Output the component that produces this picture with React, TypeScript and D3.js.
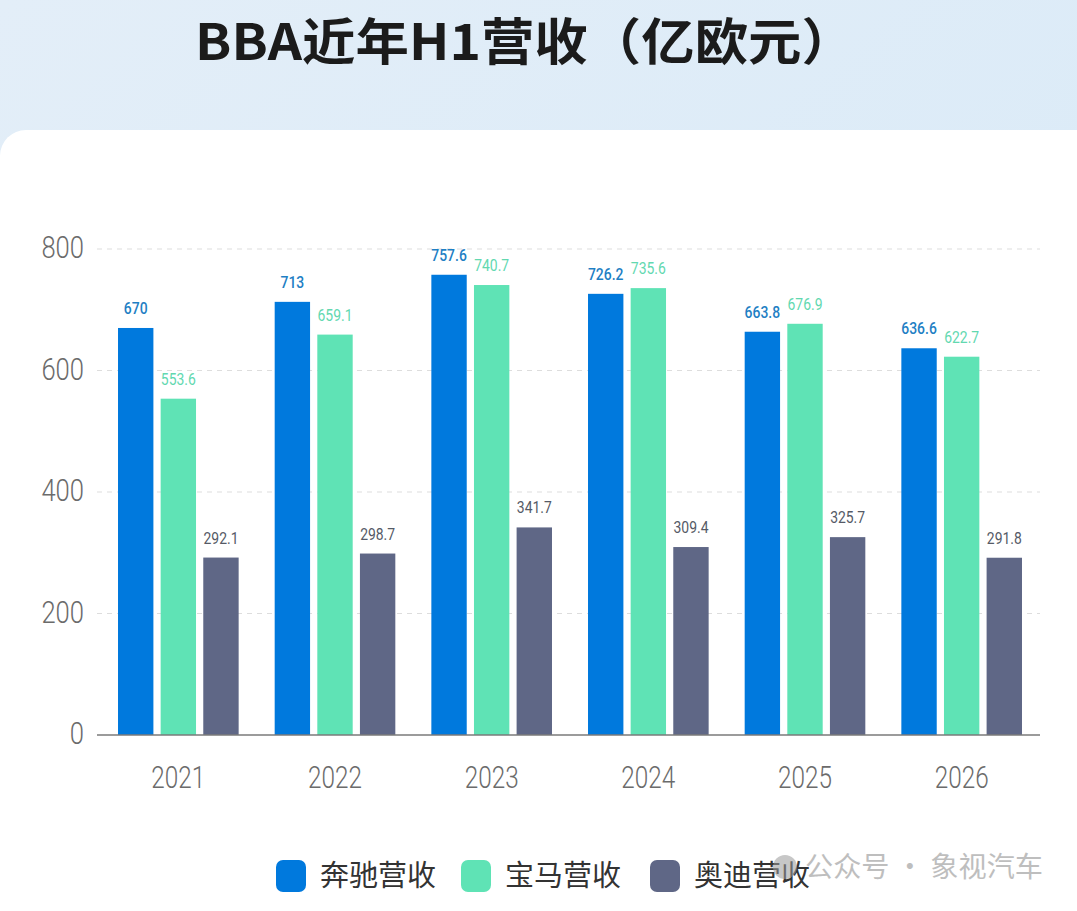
import React from "react";
import * as d3 from "d3";

const WIDTH = 1077;
const HEIGHT = 911;

const years = ["2021", "2022", "2023", "2024", "2025", "2026"];
const seriesNames = ["奔驰营收", "宝马营收", "奥迪营收"];
const benzValues = [670, 713, 757.6, 726.2, 663.8, 636.6];
const bmwValues = [553.6, 659.1, 740.7, 735.6, 676.9, 622.7];
const audiValues = [292.1, 298.7, 341.7, 309.4, 325.7, 291.8];
const yTicks = [0, 200, 400, 600, 800];

const COLORS = ["#0079dd", "#5fe3b5", "#5f6786"];
const LABEL_COLORS = ["#1f7fc4", "#62d8b0", "#555a66"];
const CN_FONT = "'Noto Sans CJK SC', 'Noto Sans', sans-serif";
const NUM_FONT = "Roboto, 'Noto Sans', sans-serif";

// narrow text (the original uses a condensed DIN-like face)
const Narrow = ({ x, y, scale, children }: { x: number; y: number; scale: number; children: React.ReactNode }) => (
  <g transform={`translate(${x},${y}) scale(${scale},1)`}>{children}</g>
);

export default function App() {
  const series = [benzValues, bmwValues, audiValues];

  const x = d3.scaleBand().domain(years).range([100, 1040]).paddingInner(0.23).paddingOuter(0.115);
  const xInner = d3
    .scaleBand()
    .domain(seriesNames)
    .range([0, x.bandwidth()])
    .paddingInner(0.17);
  const y = d3.scaleLinear().domain([0, 800]).range([735, 249]);

  const legendX = [276, 461, 650];

  return (
    <svg width={WIDTH} height={HEIGHT} style={{ display: "block", position: "absolute", left: 0, top: 0 }}>
      <defs>
        <linearGradient id="bg" x1="0" y1="0" x2="1" y2="1">
          <stop offset="0%" stopColor="#e3eef8" />
          <stop offset="100%" stopColor="#d7e9f7" />
        </linearGradient>
      </defs>
      <rect x={0} y={0} width={WIDTH} height={HEIGHT} fill="url(#bg)" />
      <rect x={0} y={130} width={WIDTH + 30} height={HEIGHT} rx={26} fill="#ffffff" />

      <text
        x={195}
        y={60}
        textLength={660}
        lengthAdjust="spacingAndGlyphs"
        fontFamily={CN_FONT}
        fontWeight={700}
        fontSize={50}
        fill="#1b1b1b"
      >
        BBA近年H1营收（亿欧元）
      </text>

      {/* grid + y axis */}
      {yTicks.map((t) => (
        <g key={t}>
          {t > 0 && (
            <line
              x1={97}
              x2={1040}
              y1={y(t)}
              y2={y(t)}
              stroke="#dddddd"
              strokeWidth={1}
              strokeDasharray="5,5"
            />
          )}
          <Narrow x={84} y={y(t) - 2.5} scale={0.8}>
            <text
              dy="0.36em"
              textAnchor="end"
              fontFamily={NUM_FONT}
              fontWeight={300}
              fontSize={32}
              fill="#6b6b6b"
            >
              {t}
            </text>
          </Narrow>
        </g>
      ))}

      {/* bars */}
      {years.map((yr, i) => (
        <g key={yr} transform={`translate(${x(yr)},0)`}>
          {seriesNames.map((s, j) => {
            const v = series[j][i];
            const bx = xInner(s) ?? 0;
            return (
              <g key={s}>
                <rect
                  x={bx}
                  y={y(v)}
                  width={xInner.bandwidth()}
                  height={y(0) - y(v)}
                  fill={COLORS[j]}
                />
                <Narrow x={bx + xInner.bandwidth() / 2} y={y(v) - 14} scale={0.82}>
                  <text
                    textAnchor="middle"
                    fontFamily={NUM_FONT}
                    fontWeight={j === 0 ? 500 : 400}
                    fontSize={17}
                    fill={LABEL_COLORS[j]}
                  >
                    {v}
                  </text>
                </Narrow>
              </g>
            );
          })}
          <Narrow x={x.bandwidth() / 2} y={776.5} scale={0.76}>
            <text
              dy="0.36em"
              textAnchor="middle"
              fontFamily={NUM_FONT}
              fontWeight={300}
              fontSize={32}
              fill="#6b6b6b"
            >
              {yr}
            </text>
          </Narrow>
        </g>
      ))}

      <line x1={97} x2={1040} y1={y(0)} y2={y(0)} stroke="#7a7a7a" strokeWidth={1.5} />

      {/* legend */}
      {seriesNames.map((s, j) => (
        <g key={s} transform={`translate(${legendX[j]},860)`}>
          <rect x={0} y={0} width={30} height={32} rx={7} fill={COLORS[j]} />
          <text
            x={44}
            y={16}
            dy="0.36em"
            fontFamily={CN_FONT}
            fontSize={29}
            fill="#333333"
          >
            {s}
          </text>
        </g>
      ))}

      {/* watermark */}
      <g opacity={0.55}>
        <circle cx={785} cy={867} r={12} fill="#9a9a9a" />
        <text
          x={805}
          y={867}
          dy="0.36em"
          textLength={238}
          lengthAdjust="spacingAndGlyphs"
          fontFamily={CN_FONT}
          fontSize={28}
          fill="#8a8a8a"
        >
          公众号 · 象视汽车
        </text>
      </g>
    </svg>
  );
}
